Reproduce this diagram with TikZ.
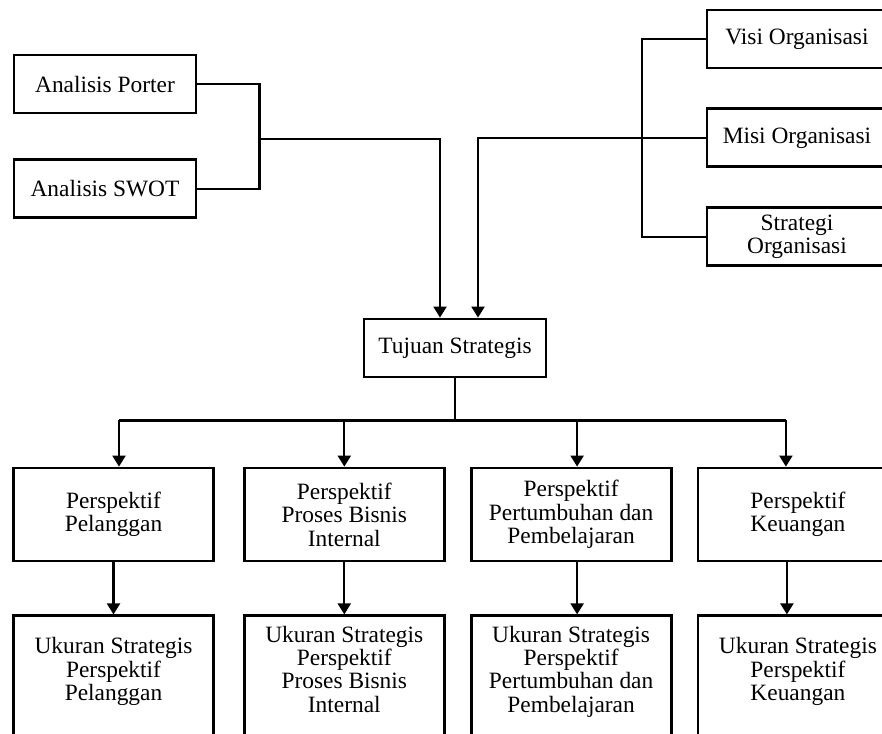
\documentclass[tikz,border=0pt]{standalone}
\usepackage{fontspec}
\setmainfont{Liberation Serif}
\usepackage{tikz}
\usetikzlibrary{positioning, arrows.meta, calc}

\begin{document}
\begin{tikzpicture}[
    x=0.5pt, y=-0.5pt,
    font=\fontsize{11.7}{11.7}\selectfont,
    box/.style={draw, rectangle, line width=1.4pt, inner sep=2pt, align=center},
    input/.style={box, minimum width=91pt, minimum height=29pt},
    org/.style={box, minimum width=90pt, minimum height=29pt},
    persp/.style={box, minimum width=100pt, minimum height=46.5pt},
    ukuran/.style={box, minimum width=100pt, minimum height=65pt},
    line/.style={line width=1.1pt},
    arrow/.style={line width=1.1pt, -{Triangle[width=6.5pt, length=5.5pt]}}
]
\useasboundingbox (0,0) rectangle (882,733);
\clip (0,0) rectangle (882,733);

% Left Side: analisis
\node[input] (porter) at (105,84) {Analisis Porter};
\node[input, below=22pt of porter] (swot) {Analisis SWOT};

% Right Side: organisasi
\node[org] (visi) at (797,39) {Visi Organisasi};
\node[org, below=19pt of visi] (misi) {Misi Organisasi};
\node[org, below=19pt of misi] (strategi) {Strategi\\Organisasi};

% Middle
\node[input] (tujuan) at (455,348) {Tujuan Strategis};

% Perspektif row
\node[persp] (pel) at (113.5,514.5) {Perspektif\\Pelanggan};
\node[persp, right=14pt of pel] (pro) {Perspektif\\Proses Bisnis\\Internal};
\node[persp, right=12pt of pro] (per) {Perspektif\\Pertumbuhan dan\\Pembelajaran};
\node[persp, right=12pt of per] (keu) {Perspektif\\Keuangan};

% Ukuran row
\node[ukuran, below=26pt of pel] (ukpel) {Ukuran Strategis\\Perspektif\\Pelanggan\\};
\node[ukuran, below=26pt of pro] (ukpro) {Ukuran Strategis\\Perspektif\\Proses Bisnis\\Internal\\};
\node[ukuran, below=26pt of per] (ukper) {Ukuran Strategis\\Perspektif\\Pertumbuhan dan\\Pembelajaran\\};
\node[ukuran, below=26pt of keu] (ukkeu) {Ukuran Strategis\\Perspektif\\Keuangan\\};

% Connectors to Tujuan
\draw[line] (porter.east) -- ++(62,0) |- (swot.east);
\coordinate (lj) at (258,139);
\draw[arrow] (lj) -| ([xshift=-7.5pt]tujuan.north);

\draw[line] (visi.west) -- ++(-64,0) |- (strategi.west);
\draw[arrow] (misi.west) -| ([xshift=11.5pt]tujuan.north);

% Tujuan to perspektif
\draw[line] (tujuan.south) -- ++(0,42) coordinate (bus);
\draw[line] ([xshift=2.75pt]pel.north |- bus) -- ([xshift=-6pt]keu.north |- bus);
\foreach \n/\dx in {pel/2.75pt, pro/0pt, per/3pt, keu/-6pt}
    \draw[arrow] ([xshift=\dx]\n.north |- bus) -- ([xshift=\dx]\n.north);

% Perspektif to ukuran
\draw[arrow] (pel) -- (ukpel);
\draw[arrow] (pro) -- (ukpro);
\draw[arrow] ([xshift=3pt]per.south) -- ([xshift=3pt]ukper.north);
\draw[arrow] ([xshift=-5.5pt]keu.south) -- ([xshift=-5.5pt]ukkeu.north);

\end{tikzpicture}
\end{document}
